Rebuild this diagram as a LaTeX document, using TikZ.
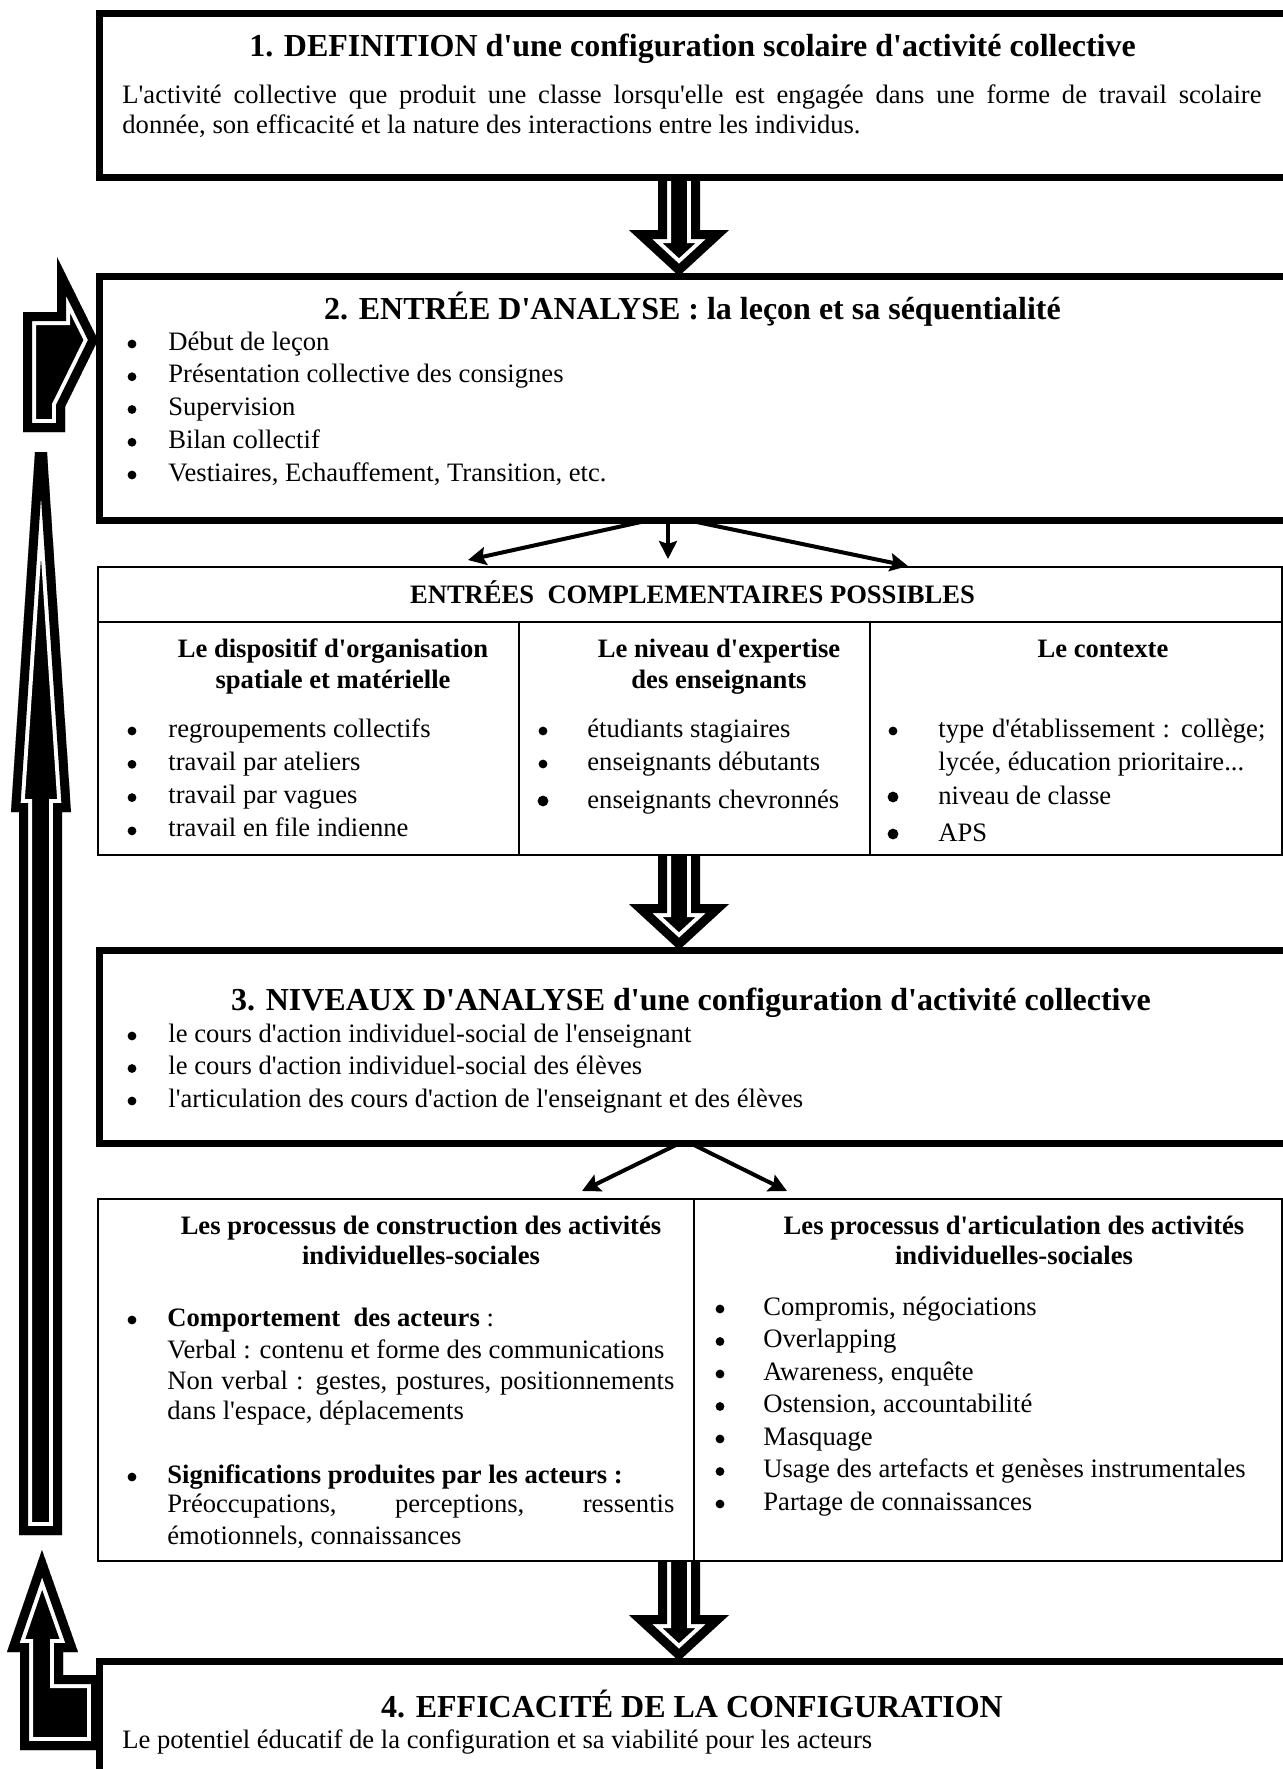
\documentclass[tikz,border=0pt]{standalone}
\usepackage{fontspec}
\setmainfont{Liberation Serif}[Ligatures=TeXOff]
\usetikzlibrary{arrows.meta, calc}

\pgfdeclarelayer{background}
\pgfsetlayers{background,main}

\newcommand{\creux}[1]{%
  \begin{scope}
    \clip #1;
    \fill #1;
    \draw[white, line width=13pt] #1;
    \draw[line width=9pt] #1;
  \end{scope}}

\newcommand{\flechebloc}[2]{%
  \begin{scope}[shift={(#1)}]
    \creux{(-21,-30) -- (21,-30) -- (21,#2-46) -- (50,#2-46) -- (0,#2) -- (-50,#2-46) -- (-21,#2-46) -- cycle}
  \end{scope}}

\begin{document}
\begin{tikzpicture}[x=0.5pt, y=-0.5pt,
  bigbox/.style  = {draw, line width=3.5pt, fill=white, outer sep=0pt, inner sep=0pt},
  thinbox/.style = {draw, line width=1pt, fill=white, outer sep=0pt, inner sep=0pt},
  titre/.style   = {font=\fontsize{16}{19}\selectfont\bfseries, anchor=base, inner sep=0pt},
  entete/.style  = {font=\fontsize{13.3}{16.4}\selectfont\bfseries, anchor=base, inner sep=0pt},
  txt/.style     = {font=\fontsize{13.3}{16.4}\selectfont, anchor=base west, inner sep=0pt},
  puce/.style    = {circle, fill, inner sep=0pt, minimum size=4.4pt},
  grosse/.style  = {circle, fill, inner sep=0pt, minimum size=5.4pt},
  fleche/.style  = {-{Stealth[length=9pt, width=9pt, inset=1.5pt]}, line width=2pt},
]
  \useasboundingbox (0,0) rectangle (1283,1769);

  \node[bigbox,  minimum width=593.5pt, minimum height=82pt]   (def)        at (692.5,95)     {};
  \node[bigbox,  minimum width=593.5pt, minimum height=122pt]  (analyse)    at (692.5,398)    {};
  \node[thinbox, minimum width=592pt,   minimum height=144pt]  (compl)      at (690,711)      {};
  \node[bigbox,  minimum width=593.5pt, minimum height=96.5pt] (niveaux)    at (692.5,1046.5) {};
  \node[thinbox, minimum width=592pt,   minimum height=181pt]  (processus)  at (690,1380)     {};
  \node[bigbox,  minimum width=593.5pt, minimum height=89.5pt] (efficacite) at (692.5,1750.5) {};

  \draw[line width=1pt] (98,622) -- (1282,622);
  \draw[line width=1pt] (519,622) -- (519,855);
  \draw[line width=1pt] (870,622) -- (870,855);
  \draw[line width=1pt] (694,1199) -- (694,1561);

  % 1
  \node[titre] (defTitre) at (692.5,56) {1. DEFINITION d'une configuration scolaire d'activité collective};
  \node[txt] (defL1) at (122,103) {\makebox[569.5pt][s]{L'activité collective que produit une classe lorsqu'elle est engagée dans une forme de travail scolaire}};
  \node[txt] (defL2) at (122,133) {donnée, son efficacité et la nature des interactions entre les individus.};

  % 2
  \node[titre] (anaTitre) at (692.5,319) {2. ENTRÉE D'ANALYSE : la leçon et sa séquentialité};
  \foreach \t [count=\i from 0] in {Début de leçon, Présentation collective des consignes,
      Supervision, Bilan collectif, {Vestiaires, Echauffement, Transition, etc.}} {
    \node[puce] (anaP\i) at (132,344+32.75*\i) {};
    \node[txt]  (anaT\i) at (168,350+32.75*\i) {\t};
  }

  % entrees complementaires
  \node[entete] (complTitre) at (692.5,603) {ENTRÉES~ COMPLEMENTAIRES POSSIBLES};
  \node[entete] (dispoA) at (333,657) {Le dispositif d'organisation};
  \node[entete] (dispoB) at (333,688) {spatiale et matérielle};
  \node[entete] (expA)   at (719,657) {Le niveau d'expertise};
  \node[entete] (expB)   at (719,688) {des enseignants};
  \node[entete] (ctx)    at (1103,657) {Le contexte};

  \foreach \t [count=\i from 0] in {regroupements collectifs, travail par ateliers,
      travail par vagues, travail en file indienne} {
    \node[puce] (dispoP\i) at (132,731+33.3*\i) {};
    \node[txt]  (dispoT\i) at (168,737+33.3*\i) {\t};
  }

  \node[puce]   (expP0) at (543,731) {};
  \node[txt]    (expT0) at (587,737) {étudiants stagiaires};
  \node[puce]   (expP1) at (543,764) {};
  \node[txt]    (expT1) at (587,770) {enseignants débutants};
  \node[grosse] (expP2) at (543,801) {};
  \node[txt]    (expT2) at (587,808) {enseignants chevronnés};

  \node[puce]   (ctxP0) at (893,731) {};
  \node[txt]    (ctxT0) at (938,737) {\makebox[163.5pt][s]{type d'établissement : collège;}};
  \node[txt]    (ctxT1) at (938,770) {lycée, éducation prioritaire...};
  \node[grosse] (ctxP2) at (893,797) {};
  \node[txt]    (ctxT2) at (938,804) {niveau de classe};
  \node[grosse] (ctxP3) at (893,834) {};
  \node[txt]    (ctxT3) at (938,841) {APS};

  % 3
  \node[titre] (nivTitre) at (691,1010) {3. NIVEAUX D'ANALYSE d'une configuration d'activité collective};
  \foreach \t [count=\i from 0] in {le cours d'action individuel-social de l'enseignant,
      le cours d'action individuel-social des élèves,
      l'articulation des cours d'action de l'enseignant et des élèves} {
    \node[puce] (nivP\i) at (132,1036+32.5*\i) {};
    \node[txt]  (nivT\i) at (168,1042+32.5*\i) {\t};
  }

  % processus
  \node[entete] (constA) at (421,1234) {Les processus de construction des activités};
  \node[entete] (constB) at (421,1264) {individuelles-sociales};
  \node[entete] (artA)   at (1014,1234) {Les processus d'articulation des activités};
  \node[entete] (artB)   at (1014,1264) {individuelles-sociales};

  \node[puce] (constP0) at (132,1320) {};
  \node[txt]  (constT0) at (167,1326) {\textbf{Comportement~ des acteurs} :};
  \node[txt]  (constT1) at (167,1358) {Verbal : contenu et forme des communications};
  \node[txt]  (constT2) at (167,1389) {\makebox[253.5pt][s]{Non verbal : gestes, postures, positionnements}};
  \node[txt]  (constT3) at (167,1419) {dans l'espace, déplacements};
  \node[puce] (constP1) at (132,1477) {};
  \node[txt]  (constT4) at (167,1483) {\textbf{Significations produites par les acteurs :}};
  \node[txt]  (constT5) at (167,1512) {\makebox[253.5pt][s]{Préoccupations, perceptions, ressentis}};
  \node[txt]  (constT6) at (167,1544) {émotionnels, connaissances};

  \foreach \t [count=\i from 0] in {{Compromis, négociations}, Overlapping, {Awareness, enquête},
      {Ostension, accountabilité}, Masquage, Usage des artefacts et genèses instrumentales,
      Partage de connaissances} {
    \node[puce] (artP\i) at (720,1309+32.5*\i) {};
    \node[txt]  (artT\i) at (763,1315+32.5*\i) {\t};
  }

  % 4
  \node[titre] (effTitre) at (692,1717) {4. EFFICACITÉ DE LA CONFIGURATION};
  \node[txt]   (effT)     at (122,1748) {Le potentiel éducatif de la configuration et sa viabilité pour les acteurs};

  \draw[fleche] ($(analyse.south)+(-42.5,0)$) -- ($(compl.north)+(-222,-7)$);
  \draw[fleche] ($(analyse.south)+(-24.5,0)$) -- ($(compl.north)+(-22,-8)$);
  \draw[fleche] ($(analyse.south)+(-5.5,0)$)  -- ($(compl.north)+(218,-1)$);
  \draw[fleche] ($(niveaux.south)+(-12.5,0)$) -- ($(processus.north)+(-108,-8)$);
  \draw[fleche] ($(niveaux.south)+(-2.5,0)$)  -- ($(processus.north)+(97,-8)$);

  \begin{pgfonlayer}{background}
    \flechebloc{$(def.south)+(-13.5,0)$}{99}
    \flechebloc{$(compl.south)+(-11,0)$}{95}
    \flechebloc{$(processus.south)+(-11,0)$}{100}
    \creux{(19,1535) -- (62,1535) -- (62,812) -- (71,812) -- (47,452) -- (35,452) -- (11,812) -- (19,812) -- cycle}
    \creux{(23,432) -- (65,432) -- (65,407) -- (98,340) -- (57,257) -- (57,312) -- (23,312) -- cycle}
    \creux{(100,1675) -- (63,1675) -- (63,1652) -- (78,1652) -- (42,1550) -- (7,1652) -- (20,1652) -- (20,1750) -- (100,1750) -- cycle}
  \end{pgfonlayer}
\end{tikzpicture}
\end{document}
